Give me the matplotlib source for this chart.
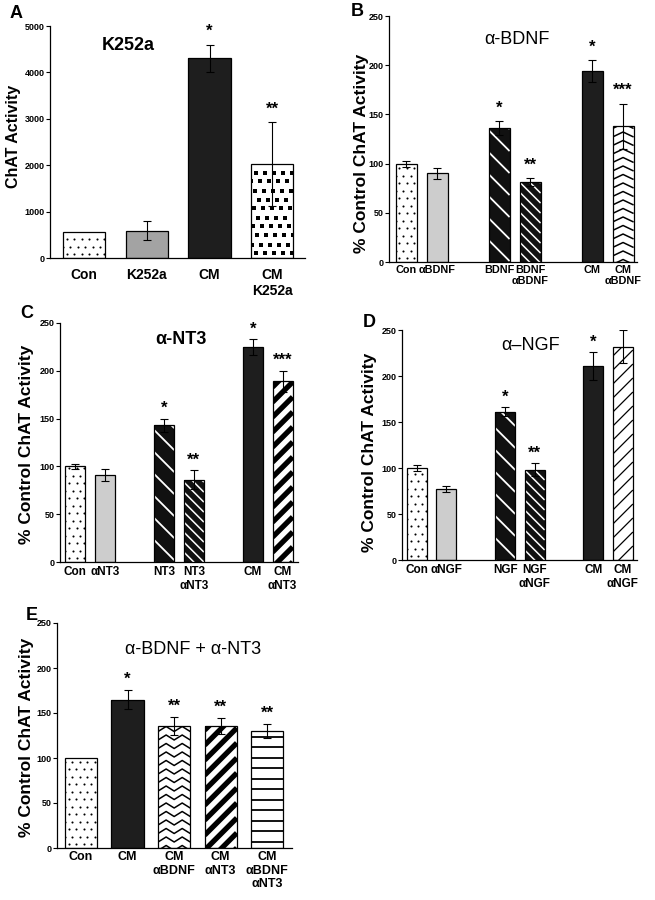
import numpy as np
import matplotlib
matplotlib.use("Agg")
import matplotlib.pyplot as plt

plt.rcParams['font.family'] = ['Liberation Sans', 'DejaVu Sans']
plt.rcParams['font.weight'] = 'bold'
plt.rcParams['axes.linewidth'] = 0.9

# ---- data ----
a_labels = ['Con', 'K252a', 'CM', 'CM\nK252a']
a_values = [560, 590, 4300, 2020]
a_errors = [0, 200, 300, 910]
a_stars = ['', '', '*', '**']

b_labels = ['Con', 'αBDNF', 'BDNF', 'BDNF\nαBDNF', 'CM', 'CM\nαBDNF']
b_values = [100, 90, 136, 81, 194, 138]
b_errors = [3, 6, 7, 4, 11, 23]
b_stars = ['', '', '*', '**', '*', '***']

c_labels = ['Con', 'αNT3', 'NT3', 'NT3\nαNT3', 'CM', 'CM\nαNT3']
c_values = [100, 91, 143, 86, 225, 189]
c_errors = [3, 6, 7, 10, 8, 11]
c_stars = ['', '', '*', '**', '*', '***']

d_labels = ['Con', 'αNGF', 'NGF', 'NGF\nαNGF', 'CM', 'CM\nαNGF']
d_values = [100, 77, 161, 98, 211, 232]
d_errors = [3, 3, 5, 7, 15, 18]
d_stars = ['', '', '*', '**', '*', '']

e_labels = ['Con', 'CM', 'CM\nαBDNF', 'CM\nαNT3', 'CM\nαBDNF\nαNT3']
e_values = [100, 165, 136, 136, 130]
e_errors = [0, 11, 10, 9, 8]
e_stars = ['', '*', '**', '**', '**']

W, H = 655, 900
fig = plt.figure(figsize=(W / 100, H / 100), dpi=100)


def add_axes_px(left, top, right, bottom):
    # axes box given in pixels of the figure
    return fig.add_axes([left / W, 1 - bottom / H, (right - left) / W, (bottom - top) / H])


def bar_box_px(ax, bar):
    x, y = bar.get_x(), bar.get_y()
    (x0, y0) = ax.transData.transform((x, y))
    (x1, y1) = ax.transData.transform((x + bar.get_width(), y + bar.get_height()))
    return x0, y0, x1, y1


def draw_px_line(ax, bar, xs, ys, lw, color):
    inv = ax.transData.inverted()
    pts = inv.transform(np.column_stack([xs, ys]))
    ln, = ax.plot(pts[:, 0], pts[:, 1], color=color, lw=lw, zorder=3,
                  solid_capstyle='butt')
    ln.set_clip_path(bar)


def stripes(ax, bar, kind, period, lw, color):
    x0, y0, x1, y1 = bar_box_px(ax, bar)
    if kind == '/':
        for c in np.arange(y0 - x1, y1 - x0 + period, period):
            draw_px_line(ax, bar, [x0, x1], [x0 + c, x1 + c], lw, color)
    elif kind == '\\':
        for c in np.arange(x0 + y0, x1 + y1 + period, period):
            draw_px_line(ax, bar, [x0, x1], [c - x0, c - x1], lw, color)
    elif kind == '-':
        for c in np.arange(y0 + period * 0.6, y1, period):
            draw_px_line(ax, bar, [x0, x1], [c, c], lw, color)


def zigzag(ax, bar, period, half, amp, lw):
    x0, y0, x1, y1 = bar_box_px(ax, bar)
    n = int(np.ceil((x1 - x0) / half)) + 1
    xs = x0 + np.arange(n) * half
    offs = np.where(np.arange(n) % 2 == 0, -amp, amp)
    for c in np.arange(y0, y1 + period, period):
        draw_px_line(ax, bar, xs, c + offs, lw, 'black')


def point_grid(ax, bar, step, marker, size, stagger):
    x0, y0, x1, y1 = bar_box_px(ax, bar)
    xs, ys = [], []
    for i, yy in enumerate(np.arange(y0 + step / 2, y1, step)):
        shift = (i * stagger) % step
        for xx in np.arange(x0 + step / 2 + shift - step, x1, step):
            xs.append(xx)
            ys.append(yy)
    if not xs:
        return
    inv = ax.transData.inverted()
    pts = inv.transform(np.column_stack([xs, ys]))
    ln, = ax.plot(pts[:, 0], pts[:, 1], ls='none', marker=marker, ms=size,
                  mfc='black', mec='black', mew=0, zorder=3)
    ln.set_clip_path(bar)


FACE = {'dots': 'white', 'stipple': '#cdcdcd', 'gray': '#a3a3a3', 'black': '#1e1e1e',
        'diag_wide': '#111111', 'diag_dense': '#111111', 'stripe_thick': 'white',
        'slash_thin': 'white', 'hlines': 'white', 'chevron': 'white', 'squares': 'white'}


def apply_pattern(ax, bar, name):
    bw = bar_box_px(ax, bar)
    width = bw[2] - bw[0]
    if name == 'dots':
        point_grid(ax, bar, 7.5, 'o', 1.5, 3.75)
    elif name == 'squares':
        point_grid(ax, bar, 9.0, 's', 3.2, 5.0)
    elif name == 'diag_wide':
        stripes(ax, bar, '\\', 22, 1.3, 'white')
    elif name == 'diag_dense':
        stripes(ax, bar, '\\', 10, 1.1, 'white')
    elif name == 'stripe_thick':
        stripes(ax, bar, '/', 15, 3.8, 'black')
    elif name == 'slash_thin':
        stripes(ax, bar, '/', 14, 0.9, 'black')
    elif name == 'hlines':
        stripes(ax, bar, '-', 10.5, 1.3, 'black')
    elif name == 'chevron':
        half = width / 2 if width < 25 else width / 4
        zigzag(ax, bar, 8.5, half, 2.5, 1.1)


def panel(box, pos, labels, values, errors, stars, patterns, ylim, yticks,
          xlim, width, ylabel, ylab_xy, label_pad, xfs, ylfs, star_off=4):
    ax = add_axes_px(*box)
    ax.set_xlim(*xlim)
    ax.set_ylim(*ylim)
    bars = ax.bar(pos, values, width=width, zorder=2,
                  color=[FACE[p] for p in patterns], edgecolor='none')
    for bar, p in zip(bars, patterns):
        apply_pattern(ax, bar, p)
    ax.bar(pos, values, width=width, zorder=4, facecolor='none',
           edgecolor='black', linewidth=0.9)
    ep = [(p, v, e) for p, v, e in zip(pos, values, errors) if e > 0]
    ax.errorbar([t[0] for t in ep], [t[1] for t in ep], yerr=[t[2] for t in ep],
                fmt='none', ecolor='black', elinewidth=0.8, capsize=3,
                capthick=0.8, zorder=6)
    for p, v, e, s in zip(pos, values, errors, stars):
        if s:
            ax.annotate(s, (p, v + e), xytext=(0, star_off), textcoords='offset points',
                        ha='center', va='bottom', fontsize=12, fontweight='bold',
                        zorder=7)
    ax.spines['top'].set_visible(False)
    ax.spines['right'].set_visible(False)
    ax.set_yticks(yticks)
    ax.tick_params(axis='y', direction='out', length=3, width=0.8, labelsize=6.5, pad=1)
    ax.set_xticks(pos)
    ax.set_xticklabels(labels, fontsize=xfs, fontweight='bold', linespacing=1.2)
    ax.tick_params(axis='x', length=0, pad=label_pad)
    ax.set_ylabel(ylabel, fontsize=ylfs, fontweight='bold', va='center')
    ax.yaxis.set_label_coords(*ylab_xy)
    return ax


pair_pos = [0, 1, 3, 4, 6, 7]
pct_label = '% Control ChAT Activity'
pct_ticks = [0, 50, 100, 150, 200, 250]

# A
panel((50, 26, 305, 258), [0, 1, 2, 3], a_labels, a_values, a_errors, a_stars,
      ['dots', 'gray', 'black', 'squares'], (0, 5000), [0, 1000, 2000, 3000, 4000, 5000],
      (-0.54, 3.52), 0.67, 'ChAT Activity', (-0.145, 0.526), 7, 10, 11.5)
# B
panel((389, 16, 637, 262), pair_pos, b_labels, b_values, b_errors, b_stars,
      ['dots', 'stipple', 'diag_wide', 'diag_dense', 'black', 'chevron'], (0, 250),
      pct_ticks, (-0.55, 7.45), 0.68, pct_label, (-0.112, 0.443), 2, 7.8, 12.5)
# C
panel((60, 323, 298, 562), pair_pos, c_labels, c_values, c_errors, c_stars,
      ['dots', 'stipple', 'diag_wide', 'diag_dense', 'black', 'stripe_thick'], (0, 250),
      pct_ticks, (-0.52, 7.52), 0.68, pct_label, (-0.139, 0.494), 3, 8.5, 12.5, star_off=2)
# D
panel((402, 330, 637, 560), pair_pos, d_labels, d_values, d_errors, d_stars,
      ['dots', 'stipple', 'diag_wide', 'diag_dense', 'black', 'slash_thin'], (0, 250),
      pct_ticks, (-0.51, 7.48), 0.68, pct_label, (-0.138, 0.47), 3, 8.5, 12.5, star_off=2)
# E
panel((57, 623, 292, 848), [0, 1, 2, 3, 4], e_labels, e_values, e_errors, e_stars,
      ['dots', 'black', 'chevron', 'stripe_thick', 'hlines'], (0, 250),
      pct_ticks, (-0.515, 4.53), 0.69, pct_label, (-0.128, 0.493), 2, 9, 12.5, star_off=2)

# panel titles
titles = [('K252a', 128, 46, 'bold'), ('α-BDNF', 517, 39, 'normal'),
          ('α-NT3', 181, 340, 'bold'), ('α–NGF', 531, 345, 'normal'),
          ('α-BDNF + α-NT3', 193, 649, 'normal')]
for txt, x, y, wt in titles:
    fig.text(x / W, 1 - y / H, txt, ha='center', va='center', fontsize=13, fontweight=wt)

# panel letters
letters = [('A', 16, 14), ('B', 357, 12), ('C', 27, 313), ('D', 369, 323), ('E', 32, 615)]
for txt, x, y in letters:
    fig.text(x / W, 1 - y / H, txt, ha='center', va='center', fontsize=13, fontweight='bold')

fig.savefig('out.png', dpi=100)
